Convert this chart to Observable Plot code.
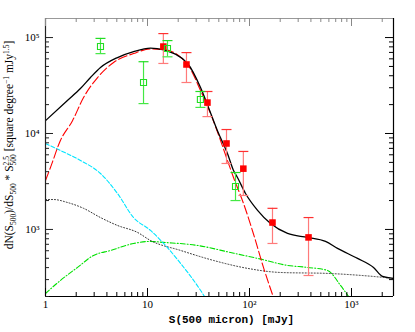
<!DOCTYPE html>
<html>
<head>
<meta charset="utf-8">
<script src="https://cdn.jsdelivr.net/npm/d3@7"></script>
<script src="https://cdn.jsdelivr.net/npm/@observablehq/plot@0.6"></script>
<style>
  html, body { margin: 0; padding: 0; background: #fff; }
  #chart { width: 415px; height: 332px; }
</style>
</head>
<body>
<div id="chart"></div>
<script>
// ---- data ----
const totalX = [1, 1.64, 2.2, 2.76, 3.46, 5.08, 7.3, 10.7, 14.4, 24.7, 33.1, 39.6, 48.5, 60.8, 69.7, 76.2, 91.4, 120, 161, 236, 371, 556, 729, 1146, 1644, 2014, 2580];
const totalY = [13600, 22100, 29400, 38300, 48700, 61900, 71400, 77700, 74200, 53600, 30100, 18700, 10700, 6190, 4120, 3480, 2370, 1580, 1150, 908, 826, 750, 634, 499, 402, 324, 309];

const redX = [1, 1.12, 1.40, 1.84, 2.36, 3.24, 4.65, 7.3, 10.7, 14.4, 24.7, 33.1, 41.5, 52, 60.8, 69.7, 87.3, 109, 137, 172];
const redY = [3240, 4430, 8450, 13600, 23700, 38300, 55000, 68100, 75900, 75000, 52300, 28100, 16100, 8450, 5240, 3480, 1870, 908, 402, 195];

const cyanX = [1, 1.40, 2.2, 3.46, 5.08, 7.3, 10.7, 14.4, 21.1, 33.1, 36.2];
const cyanY = [7870, 6650, 5240, 3830, 2370, 1330, 977, 714, 443, 232, 200];

const dotX = [1, 1.2, 1.64, 2.36, 3.46, 5.08, 7.98, 10.7, 21.1, 44.4, 95.5, 201, 582, 1225, 2580];
const dotY = [2050, 2050, 1910, 1660, 1330, 1100, 931, 767, 604, 475, 393, 356, 348, 332, 309];

const greenX = [1, 1.40, 2.06, 2.96, 4.34, 7.3, 10.7, 14.4, 30.9, 65.2, 120, 236, 371, 582, 780, 935];
const greenY = [215, 294, 402, 536, 604, 714, 750, 733, 681, 575, 499, 422, 402, 374, 261, 200];

const redPtX  = [14.3, 24.1, 38.7, 59.5, 87, 168, 379];
const redPtY  = [80600, 52400, 21000, 7870, 4300, 1180, 826];
const redPtLo = [53700, 34000, 15000, 4870, 2260, 714, 331];
const redPtHi = [110000, 69700, 27400, 11000, 6500, 1660, 1330];

const grnPtX  = [3.46, 9.14, 15.7, 33, 72.9];
const grnPtY  = [80600, 34000, 76800, 22600, 2800];
const grnPtLo = [68000, 20500, 63000, 18700, 2000];
const grnPtHi = [98000, 56000, 93000, 27400, 3920];

const xMajor = [1, 10, 100, 1000];
const xMajorLabels = ["1", "10", "10²", "10³"];
const yMajor = [1000, 10000, 100000];
const yMajorLabels = ["10³", "10⁴", "10⁵"];

const xDomain = [1, 2580];
const yDomain = [200, 158000];

// ---- build tables ----
const zip = (xs, ys) => xs.map((x, i) => ({x, y: ys[i]}));
const total = zip(totalX, totalY);
const red = zip(redX, redY);
const cyan = zip(cyanX, cyanY);
const dotted = zip(dotX, dotY);
const green = zip(greenX, greenY);
const redPts = redPtX.map((x, i) => ({x, y: redPtY[i], lo: redPtLo[i], hi: redPtHi[i]}));
const grnPts = grnPtX.map((x, i) => ({x, y: grnPtY[i], lo: grnPtLo[i], hi: grnPtHi[i]}));

const xMinor = d3.scaleLog().domain(xDomain).ticks().filter(v => !xMajor.includes(v));
const yMinor = d3.scaleLog().domain(yDomain).ticks().filter(v => !yMajor.includes(v));

const W = 415, H = 332, mL = 45, mT = 18, mR = 22, mB = 36;
const iw = W - mL - mR, ih = H - mT - mB;

const hbar = {draw(ctx, size) { const r = Math.sqrt(size / Math.PI); ctx.moveTo(-r, 0); ctx.lineTo(r, 0); }};

const chart = Plot.plot({
  width: W, height: H,
  marginLeft: mL, marginTop: mT, marginRight: mR, marginBottom: mB,
  style: {background: "#fff", fontFamily: "Liberation Serif", fontSize: "11px", color: "#000"},
  x: {type: "log", domain: xDomain, axis: null},
  y: {type: "log", domain: yDomain, axis: null},
  marks: [
    // curves
    Plot.line(green, {x: "x", y: "y", stroke: "#00e000", strokeWidth: 1.1, strokeDasharray: "5,2,1,2", curve: "monotone-x", clip: true}),
    Plot.line(dotted, {x: "x", y: "y", stroke: "#333", strokeWidth: 1, strokeDasharray: "1,2", curve: "monotone-x", clip: true}),
    Plot.line(cyan, {x: "x", y: "y", stroke: "#00e5ff", strokeWidth: 1.1, strokeDasharray: "4,2", curve: "monotone-x", clip: true}),
    Plot.line(red, {x: "x", y: "y", stroke: "#ff0000", strokeWidth: 1.1, strokeDasharray: "9,3", curve: "monotone-x", clip: true}),
    Plot.line(total, {x: "x", y: "y", stroke: "#000", strokeWidth: 1.3, curve: "monotone-x", clip: true}),
    // red points with error bars
    Plot.ruleX(redPts, {x: "x", y1: "lo", y2: "hi", stroke: "#ff7a7a", strokeWidth: 1.2}),
    Plot.dot(redPts, {x: "x", y: "hi", symbol: hbar, r: 5, stroke: "#ff3030", strokeWidth: 1.2}),
    Plot.dot(redPts, {x: "x", y: "lo", symbol: hbar, r: 5, stroke: "#ff7a7a", strokeWidth: 1.2}),
    Plot.dot(redPts, {x: "x", y: "y", symbol: "square", r: 3.7, fill: "#ff0000", stroke: "none"}),
    // green points with error bars
    Plot.ruleX(grnPts, {x: "x", y1: "lo", y2: "hi", stroke: "#44e844", strokeWidth: 1.2}),
    Plot.dot(grnPts, {x: "x", y: "hi", symbol: hbar, r: 5, stroke: "#22dd22", strokeWidth: 1.2}),
    Plot.dot(grnPts, {x: "x", y: "lo", symbol: hbar, r: 5, stroke: "#44e844", strokeWidth: 1.2}),
    Plot.dot(grnPts, {x: "x", y: "y", symbol: "square", r: 3.4, fill: "none", stroke: "#22dd22", strokeWidth: 1.1}),
    // frame
    Plot.ruleY([yDomain[1]], {stroke: "#999", strokeWidth: 1.2}),
    Plot.ruleX([xDomain[1]], {stroke: "#000", strokeWidth: 1.2}),
    Plot.ruleY([yDomain[0]], {stroke: "#000", strokeWidth: 1.2}),
    Plot.ruleX([xDomain[0]], {stroke: "#222", strokeWidth: 1.2}),
    // ticks: bottom/top
    Plot.tickX(xMajor, {x: d => d, insetTop: ih - 8, stroke: "#000"}),
    Plot.tickX(xMinor, {x: d => d, insetTop: ih - 4, stroke: "#000"}),
    Plot.tickX(xMajor, {x: d => d, insetBottom: ih - 8, stroke: "#888"}),
    Plot.tickX(xMinor, {x: d => d, insetBottom: ih - 4, stroke: "#888"}),
    // ticks: left/right
    Plot.tickY(yMajor, {y: d => d, insetRight: iw - 8, stroke: "#222"}),
    Plot.tickY(yMinor, {y: d => d, insetRight: iw - 4, stroke: "#222"}),
    Plot.tickY(yMajor, {y: d => d, insetLeft: iw - 8, stroke: "#000"}),
    Plot.tickY(yMinor, {y: d => d, insetLeft: iw - 4, stroke: "#000"}),
    // tick labels
    Plot.text(xMajor, {x: d => d, text: (d, i) => xMajorLabels[i], frameAnchor: "bottom", dy: 8, lineAnchor: "middle", fontSize: 11, fill: "#000"}),
    Plot.text(yMajor, {y: d => d, text: (d, i) => yMajorLabels[i], frameAnchor: "left", dx: -6, textAnchor: "end", lineAnchor: "middle", fontSize: 11, fill: "#000"}),
    // x title
    Plot.text(["S(500 micron) [mJy]"], {text: d => d, frameAnchor: "bottom", dx: 12, dy: 23, lineAnchor: "middle", fontFamily: "Liberation Mono", fontWeight: "bold", fontSize: 11, letterSpacing: 1, fill: "#000"})
  ]
});

document.getElementById("chart").append(chart);

// y title with sub/superscripts
const svg = d3.select(chart.tagName.toLowerCase() === "svg" ? chart : chart.querySelector("svg"));
const t = svg.append("text")
  .attr("transform", "translate(13,145) rotate(-90)")
  .attr("text-anchor", "middle")
  .attr("font-family", "Liberation Serif")
  .attr("font-size", 11.5)
  .attr("fill", "#000");
const parts = [
  ["dN(S", 0], ["500", 1], [")/dS", 0], ["500", 1], [" * S", 0], ["2.5", -1], ["500", 1, true],
  [" [square degree", 0], ["−1", -1], [" mJy", 0], ["1.5", -1], ["]", 0]
];
let cur = 0, lastSupLen = 0;
parts.forEach(([s, k, stacked]) => {
  const target = k === 1 ? 2.5 : k === -1 ? -4.5 : 0;
  const ts = t.append("tspan").text(s).attr("dy", target - cur);
  if (k !== 0) ts.attr("font-size", 7.5);
  if (stacked) ts.attr("dx", -lastSupLen);
  cur = target;
  if (k === -1) lastSupLen = ts.node().getComputedTextLength();
});
</script>
</body>
</html>
